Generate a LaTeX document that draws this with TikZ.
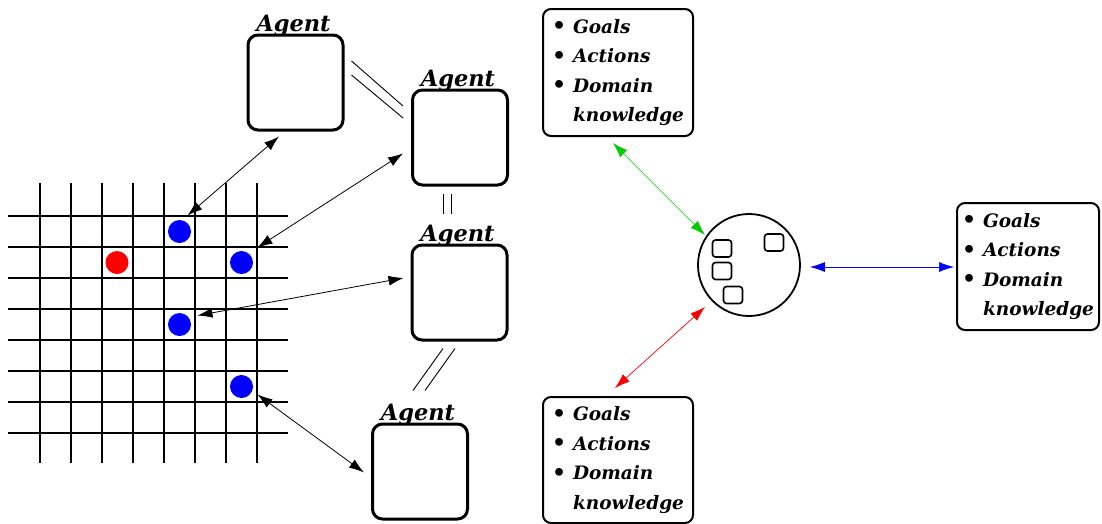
\documentclass[tikz,border=0pt]{standalone}
\usepackage{fontspec}
\newfontfamily\dvs{DejaVu Serif}
\usetikzlibrary{calc,arrows.meta}
\newcommand{\kbul}{\makebox[21pt][l]{\raisebox{-0.5pt}{\fontsize{22}{22}\selectfont\textbullet}}}
\newcommand{\kbtext}{\kbul Goals\\ \kbul Actions\\ \kbul Domain\\ \makebox[21pt]{}knowledge}
\begin{document}
\begin{tikzpicture}[x=1pt,y=-1pt,
 agentbox/.style={draw, line width=3pt, rounded corners=10pt, minimum width=95pt, minimum height=95pt, inner sep=0pt},
 agentlabel/.style={font=\dvs\fontsize{22.5}{27}\selectfont\bfseries\itshape, inner sep=0pt, anchor=south},
 kbox/.style={draw, line width=2pt, rounded corners=8pt, minimum width=150pt, minimum height=127pt, align=left, font=\dvs\fontsize{18.5}{29.5}\selectfont\bfseries\itshape, inner sep=0pt},
 gridline/.style={line width=1.5pt},
 dot/.style={circle, minimum size=23pt, inner sep=0pt},
 sq/.style={draw, line width=1.6pt, rounded corners=3pt, minimum width=19pt, minimum height=17pt, inner sep=0pt},
 link/.style={line width=0.9pt},
 dar/.style={{Latex[length=15pt,width=10pt]}-{Latex[length=15pt,width=10pt]}, line width=0.8pt},
]
\useasboundingbox (0,0) rectangle (1102,523);
% grid
\foreach \i in {0,...,7} {
  \draw[gridline] ({40+31*\i},183) -- ({40+31*\i},463);
  \draw[gridline] (8,{216+31*\i}) -- (288,{216+31*\i});
}
% dots
\node[dot, fill=blue] (d1) at (179.5,231.5) {};
\node[dot, fill=red]  (r)  at (117,262.5) {};
\node[dot, fill=blue] (d2) at (241.5,262.5) {};
\node[dot, fill=blue] (d3) at (179.5,324.5) {};
\node[dot, fill=blue] (d4) at (241.5,386.5) {};
% agents
\node[agentbox] (a1) at (295.5,82.5) {};
\node[agentbox] (a2) at (460,137.5) {};
\node[agentbox] (a3) at (459.5,292.5) {};
\node[agentbox] (a4) at (420,471.5) {};
\foreach \a in {a1,a2,a3,a4}
  \node[agentlabel] (l\a) at ($(\a.north)+(-2,3)$) {Agent};
% links between agents (pairs of parallel lines)
\draw[link] ($(a1.east)+(7,-21.5)$) -- ($(a2.west)+(-8,-31.5)$);
\draw[link] ($(a1.east)+(7,-7.5)$) -- ($(a2.west)+(-8,-19.5)$);
\draw[link] ($(a2.south)+(-16.5,7)$) -- ($(a3.north)+(-16,-30)$);
\draw[link] ($(a2.south)+(-8.5,7)$) -- ($(a3.north)+(-8,-30)$);
\draw[link] ($(a3.south)+(-16.5,7)$) -- ($(a4.north)+(-7,-32)$);
\draw[link] ($(a3.south)+(-4.5,7)$) -- ($(a4.north)+(5,-32)$);
% agent - grid arrows
\draw[dar] ($(a1.south)+(-16.5,5)$) -- ($(d1)+(8,-16)$);
\draw[dar] ($(a2.west)+(-8,16)$) -- ($(d2)+(16,-15)$);
\draw[dar] ($(a3.west)+(-7,-14.5)$) -- ($(d3)+(18,-9)$);
\draw[dar] ($(a4.west)+(-7,1)$) -- ($(d4)+(16,8)$);
% knowledge boxes
\node[kbox] (k1) at (618,72.5) {\kbtext};
\node[kbox, minimum width=142pt] (k2) at (1028,266.5) {\kbtext};
\node[kbox, minimum height=126pt] (k3) at (618,460) {\kbtext};
% circle with items
\node[draw, circle, line width=1.8pt, minimum size=102pt, inner sep=0pt] (c) at (749,265) {};
\node[sq] (s1) at (722,248.5) {};
\node[sq] (s2) at (722,271) {};
\node[sq] (s3) at (733,295) {};
\node[sq] (s4) at (774,242.5) {};
% coloured arrows
\draw[dar, green!80!black, line width=0.7pt] ($(k1.south)+(-5,6)$) -- ($(c)+(-44,-30)$);
\draw[dar, red, line width=0.7pt] ($(c)+(-44,42)$) -- ($(k3.north)+(-3,-8)$);
\draw[dar, blue, line width=0.7pt] ($(c.east)+(9,2)$) -- ($(k2.west)+(-2,0.5)$);
\end{tikzpicture}
\end{document}
